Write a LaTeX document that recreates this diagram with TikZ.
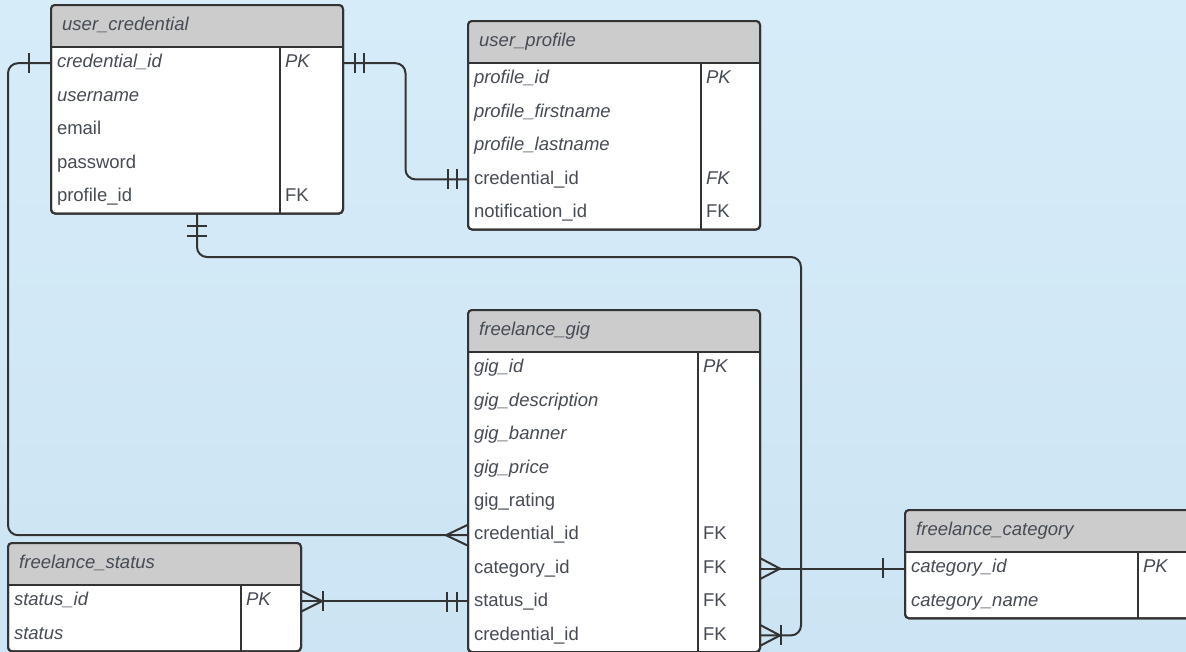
\documentclass[tikz,border=0pt]{standalone}
\usepackage{fontspec}
\setmainfont{Liberation Sans}
\usetikzlibrary{calc}
\definecolor{bgtop}{RGB}{215,236,249}
\definecolor{bgbot}{RGB}{204,228,243}
\definecolor{edge}{RGB}{51,51,51}
\definecolor{hdr}{RGB}{204,204,204}
\definecolor{txt}{RGB}{70,75,84}
\newcommand\erfont{\fontsize{18.5}{22}\selectfont}
\tikzset{
  tblbody/.style={draw=edge, fill=white, line width=2pt, rounded corners=4pt, inner sep=0pt, outer sep=0pt},
  tblline/.style={draw=edge, line width=2pt},
  rowt/.style={inner xsep=6pt, inner ysep=0pt, outer sep=0pt, text height=13pt, text depth=3.6pt, align=left, font=\erfont, text=txt},
  keyt/.style={inner sep=0pt, outer sep=0pt, text height=13pt, text depth=3.6pt, font=\erfont, text=txt},
  titlet/.style={inner sep=0pt, font=\erfont, text=txt},
  rel/.style={draw=edge, line width=2pt},
}
% #1 name, #2 x0, #3 y0, #4 width, #5 divider offset, #6 rows, #7 title
\newcommand\ertable[7]{%
  \node[tblbody, minimum width=#4pt, minimum height={41.5pt+#6*33.4pt}, anchor=north west] (#1) at (#2,#3) {};
  \begin{scope}
    \clip[rounded corners=4pt] (#1.north west) rectangle (#1.south east);
    \fill[hdr] (#1.north west) rectangle ($(#1.north east)+(0,41.5)$);
  \end{scope}
  \draw[tblline] ($(#1.north west)+(0,41.5)$) -- ($(#1.north east)+(0,41.5)$);
  \draw[tblline] ($(#1.north west)+(#5,41.5)$) -- ($(#1.south west)+(#5,0)$);
  \draw[tblline, rounded corners=4pt] (#1.north west) rectangle (#1.south east);
  \node[titlet, anchor=base west] (#1t) at ($(#1.north west)+(11,25.25)$) {\itshape #7};
}
% #1 table, #2 index, #3 text width, #4 divider offset, #5 text, #6 key
\newcommand\erow[6]{%
  \node[rowt, text width=#3pt, anchor=west] (#1#2) at ($(#1.north west)+(0,{41.5+33.4*(#2-0.5)})$) {#5};
  \ifx\relax#6\relax\else
  \node[keyt, anchor=west] (#1#2k) at ($(#1.north west)+({#4+5},{41.5+33.4*(#2-0.5)})$) {#6};
  \fi
}
\newcommand\mkvbar[2]{\draw[rel] ($(#1)+(#2,-10)$) -- ($(#1)+(#2,10)$);}
\newcommand\mkhbar[2]{\draw[rel] ($(#1)+(-10,#2)$) -- ($(#1)+(10,#2)$);}
\newcommand\mkcrow[2]{\draw[rel] ($(#1)+(0,-10.5)$) -- ($(#1)+(#2,0)$) -- ($(#1)+(0,10.5)$);}

\begin{document}
\begin{tikzpicture}[x=1pt, y=-1pt]
\useasboundingbox (0,0) rectangle (1186,651);
\clip (0,0) rectangle (1186,651);
\shade[top color=bgtop, bottom color=bgbot] (0,0) rectangle (1186,651);

% tables
\ertable{uc}{51}{5}{292}{229}{5}{user\_credential}
\erow{uc}{1}{280}{229}{\textit{credential\_id}}{\textit{PK}}
\erow{uc}{2}{280}{229}{\textit{username}}{}
\erow{uc}{3}{280}{229}{email}{}
\erow{uc}{4}{280}{229}{password}{}
\erow{uc}{5}{280}{229}{profile\_id}{FK}

\ertable{up}{468}{21}{292}{233}{5}{user\_profile}
\erow{up}{1}{280}{233}{\textit{profile\_id}}{\textit{PK}}
\erow{up}{2}{280}{233}{\textit{profile\_firstname}}{}
\erow{up}{3}{280}{233}{\textit{profile\_lastname}}{}
\erow{up}{4}{280}{233}{credential\_id}{\textit{FK}}
\erow{up}{5}{280}{233}{notification\_id}{FK}

\ertable{fg}{468}{310}{292}{230}{9}{freelance\_gig}
\erow{fg}{1}{280}{230}{\textit{gig\_id}}{\textit{PK}}
\erow{fg}{2}{280}{230}{\textit{gig\_description}}{}
\erow{fg}{3}{280}{230}{\textit{gig\_banner}}{}
\erow{fg}{4}{280}{230}{\textit{gig\_price}}{}
\erow{fg}{5}{280}{230}{gig\_rating}{}
\erow{fg}{6}{280}{230}{credential\_id}{FK}
\erow{fg}{7}{280}{230}{category\_id}{FK}
\erow{fg}{8}{280}{230}{status\_id}{FK}
\erow{fg}{9}{280}{230}{credential\_id}{FK}

\ertable{fs}{8}{543}{293}{233}{2}{freelance\_status}
\erow{fs}{1}{281}{233}{\textit{status\_id}}{\textit{PK}}
\erow{fs}{2}{281}{233}{\textit{status}}{}

\ertable{fc}{905}{510}{295}{233}{2}{freelance\_category}
\erow{fc}{1}{283}{233}{\textit{category\_id}}{\textit{PK}}
\erow{fc}{2}{283}{233}{\textit{category\_name}}{}

% connectors
\draw[rel, rounded corners=10pt] (uc1.west) -- (uc1.west -| fs.west) -- (fs.west |- fg6.west) -- (fg6.west);
\draw[rel, rounded corners=10pt] (uc1.east) -- ++(62.5,0) |- (up4.west);
\coordinate (c3r) at (801,257);
\draw[rel, rounded corners=10pt] (uc.south) |- (c3r) |- (fg9.east);
\draw[rel] (fs1.east) -- (fs1.east -| fg8.west);
\draw[rel] (fg7.east) -- (fg7.east -| fc1.west);

% cardinality marks
\mkvbar{uc1.west}{-22}
\mkcrow{fg6.west}{-22}
\mkvbar{uc1.east}{12}
\mkvbar{uc1.east}{21}
\mkvbar{up4.west}{-20}
\mkvbar{up4.west}{-11}
\mkhbar{uc.south}{12}
\mkhbar{uc.south}{22}
\mkcrow{fg9.east}{20}
\mkvbar{fg9.east}{21}
\mkcrow{fs1.east}{21}
\mkvbar{fs1.east}{22}
\mkvbar{fg8.west}{-21}
\mkvbar{fg8.west}{-11}
\mkcrow{fg7.east}{20}
\mkvbar{fc1.west}{-22}
\end{tikzpicture}
\end{document}
